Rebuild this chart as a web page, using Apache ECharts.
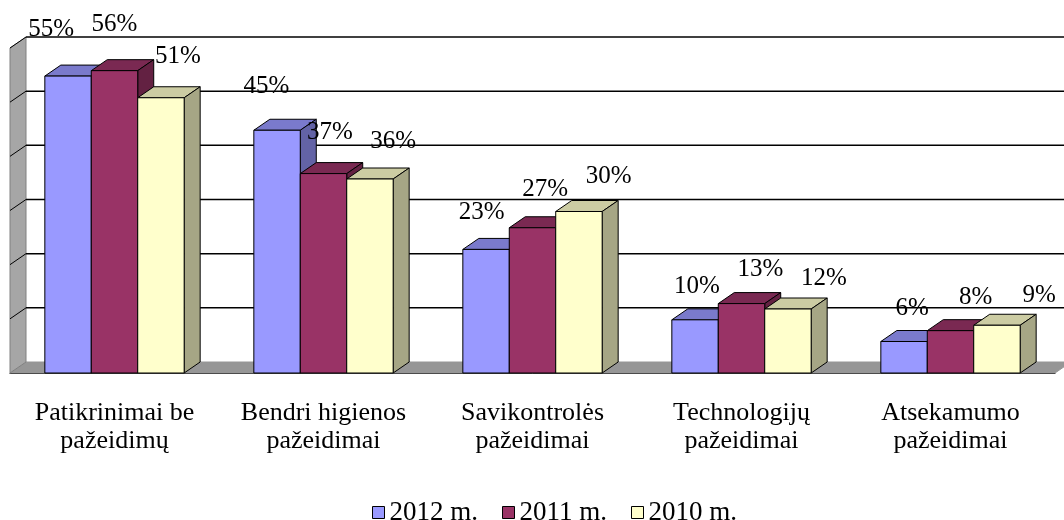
<!DOCTYPE html>
<html>
<head>
<meta charset="utf-8">
<script src="https://cdn.jsdelivr.net/npm/echarts@6/dist/echarts.min.js"></script>
<style>html,body{margin:0;padding:0;background:#fff}#chart{width:1064px;height:520px}</style>
</head>
<body>
<div id="chart"></div>
<script>
// chart data
const categories = ['Patikrinimai be\npažeidimų', 'Bendri higienos\npažeidimai', 'Savikontrolės\npažeidimai', 'Technologijų\npažeidimai', 'Atsekamumo\npažeidimai'];
const years = ['2012 m.', '2011 m.', '2010 m.'];
const values2012 = [55, 45, 23, 10, 6];
const values2011 = [56, 37, 27, 13, 8];
const values2010 = [51, 36, 30, 12, 9];
const yTicks = [0, 10, 20, 30, 40, 50, 60];

const FONT = '"Liberation Serif", "Times New Roman", serif';
const DX = 16, DY = -11; // depth of the fake 3d box
const colors = [
  { front: '#9999ff', top: '#7a7acc', side: '#6363a6' },
  { front: '#993366', top: '#7a2952', side: '#632142' },
  { front: '#ffffcc', top: '#cccca3', side: '#a6a685' }
];

// back wall, left wall and floor
const renderFrame = (params, api) => {
  const cs = params.coordSys;
  const x0 = cs.x, x1 = cs.x + cs.width, yb = cs.y + cs.height;
  const yt = api.coord([0, yTicks[yTicks.length - 1]])[1];
  const children = [
    { type: 'polygon', shape: { points: [[x0, yb], [x1, yb], [x1 + DX, yb + DY], [x0 + DX, yb + DY]] },
      style: { fill: '#969696', stroke: '#969696' } },
    { type: 'polygon', shape: { points: [[x0, yb], [x0, yt], [x0 + DX, yt + DY], [x0 + DX, yb + DY]] },
      style: { fill: '#a6a6a6', stroke: '#808080' } }
  ];
  yTicks.slice(1).forEach(t => {
    const y = api.coord([0, t])[1];
    children.push({ type: 'line', shape: { x1: x0 + DX, y1: y + DY, x2: x1 + DX + 30, y2: y + DY },
      style: { stroke: '#000', lineWidth: 1.5 } });
    children.push({ type: 'line', shape: { x1: x0, y1: y, x2: x0 + DX, y2: y + DY },
      style: { stroke: '#000', lineWidth: 1 } });
  });
  return { type: 'group', children };
};

// one 3d bar: front, top and side faces plus its label
const makeBarRender = (s) => (params, api) => {
  const c = colors[s];
  const i = api.value(0), v = api.value(1);
  const p = api.coord([i, v]);
  const yb = api.coord([i, 0])[1];
  const w = api.size([1, 0])[0] / 4.5;
  const x = p[0] - 1.5 * w + s * w, yt = p[1] + 1;
  const line = { stroke: '#000', lineWidth: 1 };
  const lx = x + w / 2 - 17 + 6.3 * i + 17 * s;
  const ly = yt + DY - (22 + 0.28 * v) + (s === 2 ? 6 : 2);
  return {
    type: 'group',
    children: [
      { type: 'polygon', shape: { points: [[x, yt], [x + DX, yt + DY], [x + w + DX, yt + DY], [x + w, yt]] },
        style: Object.assign({ fill: c.top }, line) },
      { type: 'polygon', shape: { points: [[x + w, yt], [x + w + DX, yt + DY], [x + w + DX, yb + DY], [x + w, yb]] },
        style: Object.assign({ fill: c.side }, line) },
      { type: 'rect', shape: { x: x, y: yt, width: w, height: yb - yt },
        style: Object.assign({ fill: c.front }, line) },
      { type: 'text', z2: 10,
        style: { text: v + '%', x: lx, y: ly, align: 'center', verticalAlign: 'middle',
          fill: '#000', fontSize: 25, fontFamily: FONT } }
    ]
  };
};

const seriesValues = [values2012, values2011, values2010];

const chart = echarts.init(document.getElementById('chart'));

const option = {
  animation: false,
  grid: { left: 10, right: 9, top: 48, bottom: 147 },
  legend: {
    data: years,
    left: 367,
    top: 494,
    icon: 'rect',
    itemWidth: 12,
    itemHeight: 12,
    itemGap: 24,
    itemStyle: { borderColor: '#000', borderWidth: 1 },
    textStyle: { color: '#000', fontSize: 27, fontFamily: FONT }
  },
  xAxis: {
    type: 'category',
    data: categories,
    boundaryGap: true,
    axisLine: { lineStyle: { color: '#000', width: 1 } },
    axisTick: { length: 5, lineStyle: { color: '#000' } },
    axisLabel: { interval: 0, color: '#000', fontSize: 26, fontFamily: FONT, lineHeight: 28, margin: 26 }
  },
  yAxis: {
    type: 'value',
    min: 0,
    max: 60,
    interval: 10,
    show: false
  },
  series: [
    { type: 'custom', name: 'frame', z: 1, silent: true, renderItem: renderFrame, data: [[0, 0]] }
  ].concat(seriesValues.map((vals, s) => ({
    type: 'custom',
    name: years[s],
    z: 2,
    itemStyle: { color: colors[s].front, borderColor: '#000', borderWidth: 1 },
    renderItem: makeBarRender(s),
    data: vals.map((v, i) => [i, v])
  })))
};

chart.setOption(option);
</script>
</body>
</html>
